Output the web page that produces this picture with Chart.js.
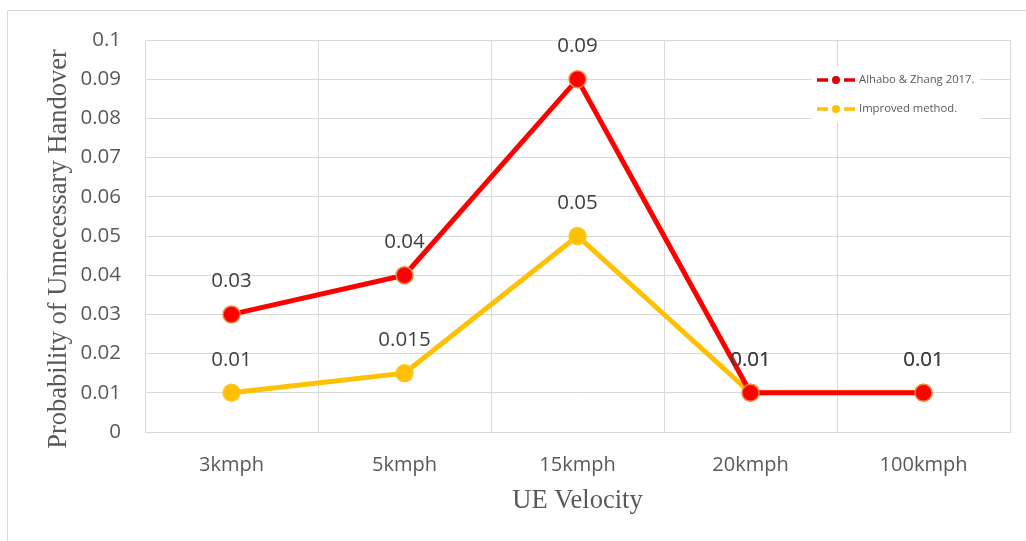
<!DOCTYPE html>
<html>
<head>
<meta charset="utf-8">
<script src="https://cdn.jsdelivr.net/npm/chart.js@4"></script>
<style>
  html, body { margin: 0; padding: 0; background: #ffffff; }
  #wrap { width: 1026px; height: 541px; position: relative; }
</style>
</head>
<body>
<div id="wrap"><canvas id="chart" width="1026" height="541"></canvas></div>
<script>
// Categories and series values
const velocities = ['3kmph', '5kmph', '15kmph', '20kmph', '100kmph'];
const alhaboZhang = [0.03, 0.04, 0.09, 0.01, 0.01];
const improvedMethod = [0.01, 0.015, 0.05, 0.01, 0.01];
const seriesNames = ['Alhabo & Zhang 2017.', 'Improved method.'];
const yTitle = 'Probability of Unnecessary Handover';
const xTitle = 'UE Velocity';

const RED = '#FF0000';
const RED_EDGE = '#F08A3C';
const GOLD = '#FFC000';
const GOLD_EDGE = '#FFC52A';
const GRID = '#D9D9D9';
const TEXT = '#595959';
const LABEL = '#404040';
const SANS = '"Open Sans", "DejaVu Sans", sans-serif';
const SERIF = '"Liberation Serif", "DejaVu Serif", serif';

// Outer frame, axis titles, value labels and the boxed legend
const decorations = {
  id: 'decorations',
  beforeDraw(chart) {
    const ctx = chart.ctx;
    ctx.save();
    ctx.fillStyle = '#ffffff';
    ctx.fillRect(0, 0, chart.width, chart.height);
    ctx.strokeStyle = GRID;
    ctx.lineWidth = 1;
    ctx.beginPath();
    ctx.moveTo(7.5, chart.height);
    ctx.lineTo(7.5, 10.5);
    ctx.lineTo(chart.width, 10.5);
    ctx.stroke();
    ctx.restore();
  },
  afterDatasetsDraw(chart) {
    const ctx = chart.ctx;
    const area = chart.chartArea;
    ctx.save();

    // value labels above each point
    ctx.font = '20.5px ' + SANS;
    ctx.fillStyle = LABEL;
    ctx.textAlign = 'center';
    ctx.textBaseline = 'middle';
    chart.data.datasets.forEach((ds, di) => {
      const meta = chart.getDatasetMeta(di);
      meta.data.forEach((pt, i) => {
        ctx.fillText(String(ds.data[i]), pt.x, pt.y - 33);
      });
    });

    // axis titles
    ctx.fillStyle = TEXT;
    ctx.font = '26.5px ' + SERIF;
    ctx.textAlign = 'center';
    ctx.textBaseline = 'middle';
    ctx.fillText(xTitle, (area.left + area.right) / 2, 501);
    ctx.translate(59, 249);
    ctx.rotate(-Math.PI / 2);
    ctx.fillText(yTitle, 0, 0);
    ctx.setTransform(1, 0, 0, 1, 0, 0);

    // legend box
    const bx = 812, by = 67, bw = 168, bh = 55;
    ctx.fillStyle = '#ffffff';
    ctx.fillRect(bx, by, bw, bh);
    const rows = [
      { name: seriesNames[0], color: '#E00000', y: 80 },
      { name: seriesNames[1], color: GOLD, y: 109 }
    ];
    rows.forEach(r => {
      ctx.strokeStyle = r.color;
      ctx.lineWidth = 3.5;
      ctx.beginPath();
      ctx.moveTo(817, r.y); ctx.lineTo(828, r.y);
      ctx.moveTo(844, r.y); ctx.lineTo(855, r.y);
      ctx.stroke();
      ctx.fillStyle = r.color;
      ctx.beginPath();
      ctx.arc(836, r.y, 4, 0, Math.PI * 2);
      ctx.fill();
      ctx.fillStyle = TEXT;
      ctx.font = '11.3px ' + SANS;
      ctx.textAlign = 'left';
      ctx.textBaseline = 'middle';
      ctx.fillText(r.name, 859, r.y);
    });
    ctx.restore();
  }
};

new Chart(document.getElementById('chart'), {
  type: 'line',
  data: {
    labels: velocities,
    datasets: [
      {
        label: seriesNames[0],
        data: alhaboZhang,
        borderColor: RED,
        backgroundColor: RED,
        borderWidth: 5,
        pointRadius: 8.5,
        pointBorderWidth: 1.5,
        pointBackgroundColor: RED,
        pointBorderColor: RED_EDGE,
        tension: 0
      },
      {
        label: seriesNames[1],
        data: improvedMethod,
        borderColor: GOLD,
        backgroundColor: GOLD,
        borderWidth: 5,
        pointRadius: 8.5,
        pointBorderWidth: 1.5,
        pointBackgroundColor: GOLD,
        pointBorderColor: GOLD_EDGE,
        tension: 0
      }
    ]
  },
  options: {
    responsive: false,
    animation: false,
    devicePixelRatio: 1,
    layout: { padding: { top: 40, right: 16, left: 0, bottom: 0 } },
    plugins: {
      legend: { display: false },
      tooltip: { enabled: false },
      title: { display: false }
    },
    scales: {
      x: {
        type: 'category',
        offset: true,
        grid: { color: GRID, lineWidth: 1, offset: true, drawTicks: false },
        border: { color: GRID, width: 1 },
        ticks: { color: TEXT, font: { family: SANS, size: 20 }, padding: 21 },
        afterFit(scale) { scale.height = 109; }
      },
      y: {
        min: 0,
        max: 0.1,
        grid: { color: GRID, lineWidth: 1, drawTicks: false },
        border: { display: false },
        ticks: {
          stepSize: 0.01,
          color: TEXT,
          font: { family: SANS, size: 20.5 },
          padding: 24,
          callback: v => String(+Number(v).toFixed(3))
        },
        afterFit(scale) { scale.width = 145; }
      }
    }
  },
  plugins: [decorations]
});
</script>
</body>
</html>
